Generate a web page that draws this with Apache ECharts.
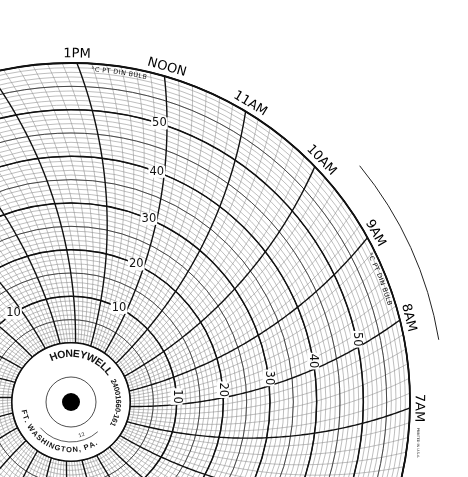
<!DOCTYPE html>
<html><head><meta charset="utf-8">
<script src="https://cdn.jsdelivr.net/npm/echarts@6/dist/echarts.min.js"></script>
<style>html,body{margin:0;padding:0;background:#fff}#c{width:468px;height:477px}</style>
</head><body><div id="c"></div>
<script>
// ---------------- data ----------------
const gridHours = [0,1,2,3,4,5,6,7,8,9,10,11,12,13,14,15,16,17,18,19,20,21,22,23];
const hourLabelValues = [13, 12, 11, 10, 9, 8, 7];
const hourLabelTexts = ['1PM', 'NOON', '11AM', '10AM', '9AM', '8AM', '7AM'];
const scaleLabels = [10, 20, 30, 40, 50];
const scaleLabelHours = [8, 12, 16];
const unitText = '°C PT DIN BULB';
const tempMin = 0, tempMax = 60;
const hubTop = 'HONEYWELL';
const hubRight = '24001660-161';
const hubBottom = 'FT. WASHINGTON, PA.';
const hubMark = '12';
const printMark = 'PRINTED IN U.S.A.';

// ---------------- layout / style ----------------
const CX = 71, CY = 402, R0 = 59, R1 = 339, ARM = 450;
const START_ANGLE = 254;
const MINOR_PER_HOUR = 6;
const labelRotDeg = {8: -90, 12: 0, 16: 0};
const FONT = 'DejaVu Sans';

function rOf(t) { return R0 + (R1 - R0) * (t - tempMin) / (tempMax - tempMin); }
function bendHours(r) {
  const d = Math.acos(Math.min(1, r / (2 * ARM))) - Math.acos(R1 / (2 * ARM));
  return d * 180 / Math.PI / 15;
}
function cwDeg(p) { return Math.atan2(p[0] - CX, -(p[1] - CY)) * 180 / Math.PI; }

const mctx = document.createElement('canvas').getContext('2d');
function arcText(text, cx, cy, r, midDeg, font, inward, spacing, z) {
  mctx.font = font;
  const chars = [...text];
  const ws = chars.map(ch => mctx.measureText(ch).width + (spacing || 0));
  const total = ws.reduce((a, b) => a + b, 0);
  const dir = inward ? -1 : 1;
  let acc = -total / 2;
  return chars.map((ch, i) => {
    const s = acc + ws[i] / 2; acc += ws[i];
    const th = (midDeg + dir * s / r * 180 / Math.PI) * Math.PI / 180;
    return {
      type: 'text', x: cx + r * Math.sin(th), y: cy - r * Math.cos(th),
      rotation: inward ? Math.PI - th : -th, z: z || 0, silent: true,
      style: {text: ch, font: font, fill: '#111', align: 'center', verticalAlign: 'middle'}
    };
  });
}

function axisSet(i, interval, color, width, z) {
  return {
    radius: {polarIndex: i, type: 'value', min: tempMin, max: tempMax, interval: interval, z: z,
      axisLine: {show: false}, axisTick: {show: false}, axisLabel: {show: false},
      splitLine: {show: true, lineStyle: {color: color, width: width}}},
    angle: {polarIndex: i, type: 'value', min: 0, max: 24, startAngle: START_ANGLE, clockwise: false, z: z,
      axisLine: {show: i === 2, lineStyle: {color: '#111', width: 1.8}}, axisTick: {show: false},
      axisLabel: {show: false}, splitLine: {show: false}}
  };
}
const sets = [axisSet(0, 1, '#888', 0.55, 0), axisSet(1, 5, '#3a3a3a', 0.9, 2), axisSet(2, 10, '#111', 1.5, 3)];

function timeLines(major) {
  return {
    type: 'custom', coordinateSystem: 'polar', polarIndex: 0, silent: true, z: major ? 3 : 1,
    data: gridHours.map(h => [tempMin, h]),
    renderItem: function (params, api) {
      const h = api.value(1);
      const children = [];
      const ks = major ? [0] : [1, 2, 3, 4, 5].slice(0, MINOR_PER_HOUR - 1);
      ks.forEach(k => {
        const v = h + k / MINOR_PER_HOUR;
        const pts = [];
        for (let t = tempMin; t <= tempMax; t += 0.5) pts.push(api.coord([t, v - bendHours(rOf(t))]));
        children.push({type: 'polyline', shape: {points: pts},
          style: {stroke: major ? '#111' : '#888', lineWidth: major ? 1.4 : 0.55, fill: null}});
      });
      return {type: 'group', children: children};
    }
  };
}

const scaleData = [];
scaleLabelHours.forEach(s => scaleLabels.forEach(L => scaleData.push([L, s])));

const option = {
  animation: false,
  polar: [0, 1, 2].map(() => ({center: [CX, CY], radius: [R0, R1]})),
  radiusAxis: sets.map(s => s.radius),
  angleAxis: sets.map(s => s.angle),
  series: [
    timeLines(false),
    timeLines(true),
    {
      type: 'custom', coordinateSystem: 'polar', polarIndex: 0, silent: true, z: 5,
      data: scaleData,
      renderItem: function (params, api) {
        const t = api.value(0), s = api.value(1);
        const r = rOf(t);
        const v = s - bendHours(r) + (8 / r) * 180 / Math.PI / 15;
        const p = api.coord([t, v]);
        return {type: 'text', x: p[0], y: p[1], rotation: labelRotDeg[s] * Math.PI / 180,
          style: {text: String(t), font: '11.5px ' + FONT, fill: '#111', align: 'center', verticalAlign: 'middle',
            backgroundColor: '#fff', padding: [0, 1]}};
      }
    },
    {
      type: 'custom', coordinateSystem: 'polar', polarIndex: 0, silent: true, z: 5,
      data: hourLabelValues.map((v, i) => [tempMax, v, i]),
      renderItem: function (params, api) {
        const p = api.coord([tempMax, api.value(1)]);
        const th = cwDeg(p) * Math.PI / 180;
        const rr = Math.hypot(p[0] - CX, p[1] - CY) + 9;
        return {type: 'text', x: CX + rr * Math.sin(th), y: CY - rr * Math.cos(th), rotation: -th,
          style: {text: hourLabelTexts[api.value(2)], font: '13px ' + FONT, fill: '#000',
            align: 'center', verticalAlign: 'middle'}};
      }
    },
    {
      type: 'custom', coordinateSystem: 'polar', polarIndex: 0, silent: true, z: 5,
      data: scaleLabelHours.map(s => [tempMax, s]),
      renderItem: function (params, api) {
        const p = api.coord([tempMax, api.value(1)]);
        return {type: 'group', children: arcText(unitText, CX, CY, R1 - 6, cwDeg(p) - 7.7, '6.5px ' + FONT, false, 0.4)};
      }
    }
  ],
  graphic: [
    {type: 'circle', shape: {cx: CX, cy: CY, r: R0 - 0.6}, style: {fill: '#fff'}, z: 10, silent: true},
    {type: 'circle', shape: {cx: CX, cy: CY, r: 25}, style: {fill: null, stroke: '#222', lineWidth: 0.8}, z: 11, silent: true},
    {type: 'circle', shape: {cx: CX, cy: CY, r: 9}, style: {fill: '#000'}, z: 11, silent: true},
    {type: 'arc', shape: {cx: CX, cy: CY, r: 40, startAngle: 48 * Math.PI / 180, endAngle: 140 * Math.PI / 180, clockwise: true},
      style: {stroke: '#333', lineWidth: 0.8, fill: null}, z: 11, silent: true},
    {type: 'arc', shape: {cx: CX, cy: CY, r: 373, startAngle: (50.7 - 90) * Math.PI / 180, endAngle: (80.4 - 90) * Math.PI / 180, clockwise: true},
      style: {stroke: '#222', lineWidth: 1, fill: null}, z: 11, silent: true},
    {type: 'text', x: 418, y: 443, rotation: -Math.PI / 2, z: 11, silent: true,
      style: {text: printMark, font: '3.4px ' + FONT, fill: '#333', align: 'center', verticalAlign: 'middle'}},
    ...arcText(hubTop, CX, CY, 48, 14.5, 'bold 10.5px Liberation Sans', false, 0, 12),
    ...arcText(hubRight, CX, CY, 47, 91, 'bold 7.5px Liberation Sans', false, 0, 12),
    ...arcText(hubBottom, CX, CY, 48, 204, 'bold 7.5px Liberation Sans', true, 0.7, 12),
    ...arcText(hubMark, CX, CY, 35, 162, '5px ' + FONT, true, 0, 12)
  ]
};
const chart = echarts.init(document.getElementById('c'), null, {renderer: 'canvas'});
chart.setOption(option);
</script>
</body></html>
